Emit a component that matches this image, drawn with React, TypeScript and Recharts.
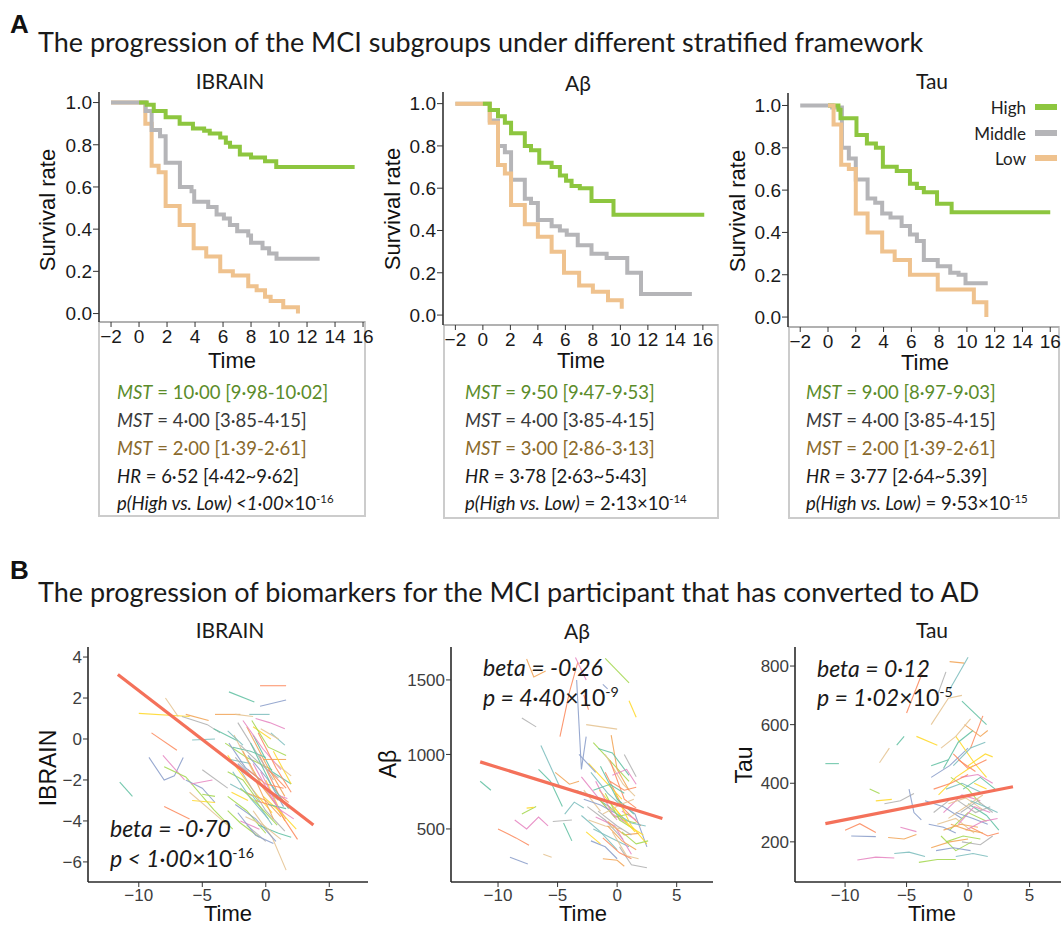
import React from 'react';
import { LineChart, Line, XAxis, YAxis } from 'recharts';

// ---------------- DATA ----------------
// Panel A: Kaplan-Meier style survival curves [time, survival]
const ibrainHigh = [[0,1],[0.55,0.99],[1.05,0.96],[1.9,0.93],[2.9,0.9],[3.85,0.877],[4.65,0.866],[5.05,0.853],[5.8,0.834],[6.2,0.81],[6.5,0.79],[7.2,0.754],[8,0.74],[9,0.722],[9.8,0.695],[15.4,0.695]];
const ibrainMiddle = [[-2,1],[0.47,0.96],[0.9,0.87],[1.5,0.84],[1.9,0.715],[2.92,0.6],[3.75,0.58],[3.94,0.53],[4.94,0.505],[5.54,0.47],[6.06,0.45],[6.49,0.42],[7.01,0.39],[7.8,0.37],[8,0.335],[8.82,0.31],[9.29,0.285],[9.82,0.26],[12.9,0.26]];
const ibrainLow = [[-2,1],[0.45,0.9],[0.9,0.7],[1.4,0.67],[1.9,0.51],[2.9,0.42],[3.9,0.31],[4.8,0.27],[5.8,0.2],[6.7,0.18],[7.8,0.13],[8.4,0.11],[9,0.08],[9.4,0.06],[10.3,0.03],[11.35,0.03],[11.35,0]];

const abHigh = [[0,1],[0.5,0.97],[1.1,0.94],[1.6,0.91],[2.05,0.86],[3.05,0.8],[3.5,0.78],[4.1,0.72],[5,0.7],[5.6,0.66],[6.05,0.635],[6.45,0.61],[7.05,0.6],[7.9,0.54],[9.5,0.475],[16.1,0.475]];
const abMiddle = [[-2,1],[0.5,0.92],[1.1,0.8],[1.6,0.77],[2.05,0.64],[3.05,0.55],[3.5,0.53],[4,0.45],[5,0.42],[5.6,0.4],[6.1,0.38],[6.9,0.33],[7.9,0.29],[9,0.27],[10.5,0.2],[11.5,0.1],[15.2,0.1]];
const abLow = [[-2,1],[0.5,0.91],[1.1,0.71],[1.6,0.67],[2.05,0.52],[3.05,0.43],[4,0.37],[5,0.3],[5.9,0.2],[7,0.14],[8,0.11],[9.1,0.07],[10.1,0.07],[10.1,0.03]];

const tauHigh = [[0,1],[0.75,0.98],[0.9,0.94],[2.05,0.86],[2.8,0.82],[3.45,0.8],[3.95,0.71],[4.95,0.69],[5.9,0.63],[6.4,0.61],[6.9,0.59],[7.85,0.535],[8.9,0.495],[16,0.495]];
const tauMiddle = [[-2,1],[0.3,0.99],[1,0.8],[1.5,0.75],[2,0.65],[2.85,0.56],[3.4,0.54],[3.9,0.49],[4.5,0.47],[5.3,0.43],[5.9,0.39],[6.4,0.36],[6.9,0.27],[7.9,0.24],[8.8,0.21],[9.4,0.2],[9.9,0.16],[11.5,0.16]];
const tauLow = [[0,1],[0.4,0.91],[0.95,0.72],[1.5,0.7],[2,0.49],[2.85,0.4],[3.9,0.31],[4.8,0.27],[5.9,0.2],[7.9,0.13],[10.5,0.07],[11.4,0.07],[11.4,0]];

const survXTicks = [-2,0,2,4,6,8,10,12,14,16];
const survYTicks = [0,0.2,0.4,0.6,0.8,1.0];
const groupLabels = ['High','Middle','Low'];

// Panel B: individual trajectories [time, value]
const ibrainTraj = [
  [[-11.5,-2.1],[-10.5,-2.8]],
  [[-9.0,0.3],[-7.0,-0.55]],
  [[-9.2,-0.9],[-8.0,-2.0],[-7.2,-1.8],[-6.5,-0.9]],
  [[-8.1,-0.8],[-6.4,-2.0]],
  [[-8.0,-1.35],[-6.3,-1.85],[-4.1,-3.45],[-2.6,-4.4]],
  [[-10,1.25],[-6,1.1]],
  [[-7.9,2.0],[-6.9,1.1]],
  [[-6.6,1.1],[-4.6,0.7],[-3.6,0.3]],
  [[-6.3,1.2],[-4.5,0.9]],
  [[-5.8,-0.05],[-4,0.0]],
  [[-4.1,0.5],[-2.2,-0.1]],
  [[-8,-3.3],[-6,-3.9]],
  [[-6.3,-2.0],[-5,-2.4],[-4,-3.1]],
  [[-5.9,-2.2],[-4.2,-2.0]],
  [[-5.0,-2.7],[-4.0,-2.8]],
  [[-5.8,-3.0],[-4,-3.1]],
  [[-6,-2.6],[-4.5,-3.4],[-3,-4.2]],
  [[-5.0,-1.5],[-3,-2.4]],
  [[-4,1.2],[-2,1.2]],
  [[-1.3,1.2],[0.3,1.2]],
  [[-2.9,2.3],[-0.9,1.8]],
  [[-0.45,2.6],[1.6,2.6]],
  [[-0.45,1.6],[1.6,1.9]],
  [[-0.8,1.0],[0.3,0.8],[1.5,0.5]],
  [[-3.2,-0.2],[-1.5,-0.9],[0.5,-1.5]],
  [[-3,-0.8],[-1,-2.5],[0.5,-3.6]],
  [[-2.5,0.2],[-1,-1.6],[0.8,-3.2]],
  [[-2,-1.5],[0,-3.5],[1.5,-4.5]],
  [[-1.5,0.6],[0,-1.2],[1.5,-2.8]],
  [[-2.8,-2.2],[-1,-2.8],[0.5,-4.2]],
  [[-1,0.2],[0.5,-1.6],[2,-2.2]],
  [[-0.5,-0.8],[1,-2.7],[1.8,-3.1]],
  [[-2.2,-1.2],[-0.5,-2.2],[1,-3.0]],
  [[-1.8,0.9],[-0.2,-0.5],[1.2,-1.5]],
  [[-3,-2.8],[-1.5,-3.5],[0,-4.6]],
  [[0,-2],[1.5,-4.0]],
  [[-1,-3.5],[0.5,-4.8],[1.6,-6.4]],
  [[-1.5,-4.2],[0,-5.0]],
  [[-0.2,-1.0],[1.6,-1.0]],
  [[0.4,0.3],[1.5,-0.3]],
  [[-2.6,-0.4],[-1.2,-0.6],[0,-0.9]],
  [[-0.8,-3.0],[0.8,-3.3],[2.5,-4.9]],
  [[-2.4,-3.2],[-0.8,-3.9],[0.8,-5.0]],
  [[-1.2,-1.8],[0.2,-2.6],[1.7,-2.9]],
  [[-3,-1.6],[-1.8,-2.0],[-0.5,-3.1]],
  [[0.6,-0.6],[2,-2.2]],
  [[-0.4,0.5],[1,0.0]],
  [[-2,-0.3],[-0.3,-1.3],[1,-1.9]],
  [[-1.6,-2.6],[0,-3.0],[1.2,-3.8]],
  [[-2.8,-1.0],[-1.2,-1.2]],
  [[-0.6,-4.2],[1.0,-4.6],[2,-4.8]],
  [[0.2,-1.5],[1.6,-2.4]],
  [[-1.4,-0.8],[0.2,-2.0],[1.4,-3.3]],
  [[-2,-4.0],[-0.5,-4.4]],
  [[-3,-3.5],[-2,-4.1],[-0.5,-4.8]],
  [[-1,0.6],[0.4,0.0]],
  [[-2.4,1.2],[-1,1.1]],
  [[-2.2,0.8],[-0.8,-0.6],[0.6,-2.0]],
  [[-1.8,-0.6],[-0.2,-2.4],[1.3,-3.6]],
  [[-2.6,-1.6],[-1.2,-2.9],[0.2,-3.9]],
  [[-1.2,-0.2],[0.4,-2.2],[1.8,-3.4]],
  [[-0.6,0.3],[0.8,-1.4],[2,-2.6]],
  [[-2.9,-0.2],[-1.6,-1.4],[-0.4,-2.0]],
  [[-1.0,-1.2],[0.5,-2.9],[1.6,-3.9]],
  [[-2.0,-2.4],[-0.6,-3.2],[0.9,-4.2]],
  [[-0.2,-2.8],[1.2,-3.6],[2.4,-4.4]],
  [[-1.6,-3.8],[-0.2,-4.2],[1.2,-4.9]],
  [[-2.4,-0.9],[-1.0,-1.9],[0.4,-2.6]],
  [[-0.8,-2.0],[0.6,-3.9]],
  [[-3.0,0.4],[-1.8,-0.3]],
  [[0.2,-3.2],[1.6,-3.4]],
  [[-1.4,-1.5],[0,-2.2],[1.4,-2.4]],
  [[-2.2,-3.6],[-0.8,-4.7],[0.6,-5.1]],
  [[-0.4,-1.6],[1,-3.4],[2.2,-3.9]],
  [[-1.1,0.9],[0.2,-0.4],[1.6,-0.8]],
  [[-2.7,-2.6],[-1.4,-3.0]],
  [[0.8,-1.2],[2,-1.8]],
];
const abTraj = [
  [[-11.5,820],[-10.6,760]],
  [[-10,500],[-8.5,440],[-7.4,390]],
  [[-9,310],[-7.5,265]],
  [[-8.6,560],[-7.6,500],[-6.6,580],[-5.8,520]],
  [[-8,600],[-6.8,650]],
  [[-7.6,640],[-7,645]],
  [[-6.2,330],[-5.5,310]],
  [[-8,1245],[-6.8,1185]],
  [[-7.6,1640],[-7,1520],[-6,1560]],
  [[-6.4,1060],[-4.8,780]],
  [[-6.6,900],[-5.6,820],[-4.6,650]],
  [[-4.8,1120],[-4,1420],[-3.3,1620]],
  [[-3.4,1500],[-3.0,900],[-2.6,1120]],
  [[-3.5,1650],[-2.6,1500]],
  [[-1.0,1645],[1.0,1480]],
  [[1.0,1360],[1.6,1250]],
  [[-2.6,1200],[0,1170]],
  [[-5.4,550],[-3.8,560]],
  [[-5.2,880],[-4,800],[-3.2,820]],
  [[-4.4,600],[-3.6,680],[-2.8,640]],
  [[-4.5,540],[-3.8,420]],
  [[-2.8,1400],[-2.4,1300]],
  [[-1.2,1470],[-0.8,1440]],
  [[-3,850],[-1.5,700],[0,560]],
  [[-2,1080],[-0.5,950],[1,820]],
  [[-1.5,760],[0,620],[1.5,480]],
  [[-1,1000],[0.5,800],[1.5,720]],
  [[-2.5,650],[-1,560],[0.5,430]],
  [[-0.5,1130],[0,900],[1,760]],
  [[-2,500],[-0.5,440],[1,380]],
  [[-3.5,760],[-2,720],[-0.5,640]],
  [[-1,880],[0.5,640],[2,520]],
  [[0,700],[1.5,600],[2.5,380]],
  [[-1.8,580],[-0.2,520],[1.2,330]],
  [[-0.8,660],[0.5,560],[1.6,540]],
  [[-2.4,940],[-1,820],[0.4,700]],
  [[-0.4,480],[0.8,320],[1.8,300]],
  [[0.2,380],[1.2,260],[2.5,240]],
  [[-1.2,300],[0,290],[0.6,250]],
  [[-3,590],[-1.4,480],[0,360]],
  [[-1.6,1040],[-0.4,1010],[1,860]],
  [[-0.6,820],[0.6,760],[1.6,780]],
  [[-2.2,420],[-1,380],[0,300]],
  [[0.4,620],[1.6,560]],
  [[-1.4,690],[-0.2,580],[1,600]],
  [[-0.2,740],[1.2,520],[2.5,400]],
  [[-2.8,760],[-1.4,620]],
  [[0.6,1000],[1.6,850]],
  [[-0.8,550],[0.6,460],[1.8,470]],
  [[-2.2,880],[-0.8,740],[0.6,640]],
  [[-1.4,920],[0,700],[1.4,600]],
  [[-0.6,960],[0.6,700],[1.6,640]],
  [[-2.8,700],[-1.4,660],[0,600]],
  [[-1.8,820],[-0.4,600],[0.8,540]],
  [[-1.0,740],[0.2,560],[1.4,500]],
  [[-0.2,640],[1,520],[2.2,460]],
  [[-2.4,560],[-1,520],[0.4,500]],
  [[-1.6,620],[0,520],[1.2,460]],
  [[-0.8,520],[0.4,420],[1.6,360]],
  [[0,600],[1.2,540],[2.4,520]],
  [[-2,760],[-0.6,800],[0.6,740]],
  [[-1.2,440],[0.2,340],[1.2,300]],
  [[-3.2,1000],[-1.8,880]],
  [[-0.4,860],[0.8,900],[1.6,800]],
  [[0.4,480],[1.6,400],[2.6,420]],
  [[-2.6,480],[-1.4,400]],
  [[-1.2,600],[0.2,660],[1.4,700]],
];
const tauTraj = [
  [[-11.6,467],[-10.5,467]],
  [[-10,240],[-8.8,262],[-7.5,232]],
  [[-9.5,220],[-7.5,218]],
  [[-9,138],[-7.5,148],[-6,145]],
  [[-8,380],[-7.2,365]],
  [[-7.5,340],[-6.2,345]],
  [[-7.2,470],[-6.4,520]],
  [[-6.8,330],[-5.5,340],[-4.4,365]],
  [[-6.5,215],[-5.2,210],[-4.2,225]],
  [[-6,160],[-4.8,165],[-3.5,150]],
  [[-5.8,530],[-5.2,560]],
  [[-5,640],[-3.6,790]],
  [[-4.8,380],[-4.4,300],[-3.8,275]],
  [[-5.5,250],[-4.2,235]],
  [[-4,130],[-2.5,140],[-1,140]],
  [[-4.2,560],[-2.5,530]],
  [[-3,600],[-1.6,690],[-0.5,700]],
  [[-2.5,700],[-1.8,780]],
  [[-1.5,815],[-0.3,810]],
  [[-1.5,720],[0,830]],
  [[-0.5,680],[1.5,600]],
  [[0.2,520],[1.2,630]],
  [[-3,420],[-1.5,460],[0,520]],
  [[-2,300],[-0.5,360],[1,340]],
  [[-1.5,240],[0,300],[1.5,270]],
  [[-1,560],[0.5,470],[1.5,420]],
  [[-2.5,260],[-1,280],[0.5,230]],
  [[-0.5,200],[1,190],[2,220]],
  [[-3,180],[-1.5,200],[0,210]],
  [[-1.8,380],[-0.5,400],[1,370]],
  [[0,330],[1.5,290],[2.5,240]],
  [[-1.2,500],[0,450],[1.5,480]],
  [[-3.5,340],[-2,320],[-0.5,280]],
  [[-0.8,260],[0.5,320],[1.8,300]],
  [[-2.2,220],[-1,170],[0.3,200]],
  [[0.5,400],[1.5,380]],
  [[-1.6,330],[-0.2,350],[1.2,310]],
  [[-2.8,300],[-1.6,340]],
  [[-0.3,600],[1,560],[1.6,580]],
  [[-1,150],[0.4,160],[1.6,150]],
  [[-2,450],[-0.8,540],[0.4,580]],
  [[0.2,250],[1.6,220],[2.5,230]],
  [[-3.2,260],[-2,250],[-1,230]],
  [[-0.6,420],[0.8,430],[2,400]],
  [[-1.4,420],[0,380],[1,330]],
  [[-2.4,360],[-1,420],[0.4,460]],
  [[-1.6,280],[-0.2,320],[1.2,360]],
  [[-0.8,340],[0.6,300],[1.8,320]],
  [[-2,240],[-0.6,260],[0.8,250]],
  [[-1.2,460],[0.2,520],[1.4,540]],
  [[-0.4,380],[1,420],[2.2,380]],
  [[-2.8,380],[-1.4,400],[0,430]],
  [[-1,300],[0.4,280],[1.6,260]],
  [[-0.2,240],[1.2,270],[2.4,280]],
  [[-1.8,200],[-0.4,220],[1,210]],
  [[0,460],[1.4,500],[2,490]],
  [[-2.2,520],[-1,560],[0.2,620]],
  [[-0.6,300],[0.8,340],[2,300]],
  [[-1.4,260],[0,240],[1.2,230]],
  [[0.2,340],[1.4,320],[2.4,300]],
  [[-3,460],[-1.6,480]],
  [[-0.8,480],[0.6,440]],
  [[-2.6,170],[-1.2,180],[0.2,170]],
];
const ibrainFit = [[-11.65,3.15],[3.75,-4.2]];
const abFit = [[-11.5,950],[3.8,570]];
const tauFit = [[-11.6,262],[3.65,388]];

const trajXTicks = [-10,-5,0,5];
const ibrainYTicks = [-6,-4,-2,0,2,4];
const abYTicks = [500,1000,1500];
const tauYTicks = [200,400,600,800];

// ---------------- STYLE ----------------
const CAL = "Lato, 'Open Sans', 'Noto Sans', sans-serif";
const ARIAL = "'Liberation Sans', Arial, Helvetica, sans-serif";
const GREEN = '#8dc63f';
const GREY = '#b5b5b8';
const TAN = '#efc28e';
const FIT = '#f4715a';
const PALETTE = ['#66c2a5','#fc8d62','#8da0cb','#e78ac3','#a6d854','#ffd92f','#e5c494','#b3b3b3','#f2a65a','#7fbfbf'];

const toPts = (arr: number[][]) => arr.map(([x, y]) => ({ x, y }));
const fmtMinus = (v: number) => (v < 0 ? '\u2212' + Math.abs(v) : String(v));

type Series = { data: number[][]; color: string; width: number; type: 'stepAfter' | 'linear'; opacity?: number };

function makeTick(axis: 'x' | 'y', size: number, color: string, fmt: (v: number) => string) {
  return (p: any) => (
    <text x={p.x} y={p.y} dy={axis === 'x' ? size * 0.72 : size * 0.36} textAnchor={axis === 'x' ? 'middle' : 'end'}
      fontSize={size} fontFamily={ARIAL} fill={color}>{fmt(p.payload.value)}</text>
  );
}

function Plot(props: {
  l: number; t: number; w: number; h: number;
  xDomain: number[]; yDomain: number[]; xTicks: number[]; yTicks: number[];
  yFmt: (v: number) => string; series: Series[]; fontSize: number;
  border: string; bottomColor: string; tickColor: string; ytSize: number; xtSize: number;
}) {
  const yw = 70, xh = 40, mr = 16;
  const { l, t, w, h } = props;
  return (
    <div style={{ position: 'absolute', left: l - yw, top: t - 2 }}>
      <LineChart width={yw + w + mr} height={h + xh + 2} margin={{ top: 2, right: mr, bottom: 0, left: 0 }}>
        <XAxis xAxisId="b" type="number" dataKey="x" domain={props.xDomain} allowDataOverflow ticks={props.xTicks} interval={0}
          tick={makeTick('x', props.fontSize, props.tickColor, fmtMinus)} tickSize={props.xtSize} tickMargin={2}
          tickLine={{ stroke: '#333', strokeWidth: 1 }} axisLine={{ stroke: props.bottomColor, strokeWidth: 1.6 }} height={xh} />
        <XAxis xAxisId="t" orientation="top" type="number" dataKey="x" domain={props.xDomain} allowDataOverflow
          tick={false} tickLine={false} axisLine={{ stroke: props.border, strokeWidth: 1.6 }} height={0} />
        <YAxis yAxisId="l" type="number" domain={props.yDomain} allowDataOverflow ticks={props.yTicks} interval={0}
          tick={makeTick('y', props.fontSize, props.tickColor, props.yFmt)} tickSize={props.ytSize} tickMargin={1}
          tickLine={{ stroke: '#333', strokeWidth: 1 }} axisLine={{ stroke: props.border, strokeWidth: 1.6 }} width={yw} />
        <YAxis yAxisId="r" orientation="right" type="number" domain={props.yDomain} allowDataOverflow
          tick={false} tickLine={false} axisLine={{ stroke: props.border, strokeWidth: 1.6 }} width={0} />
        {props.series.map((s, i) => (
          <Line key={i} xAxisId="b" yAxisId="l" data={toPts(s.data)} dataKey="y" type={s.type}
            stroke={s.color} strokeWidth={s.width} strokeOpacity={s.opacity ?? 1} dot={false} activeDot={false}
            isAnimationActive={false} strokeLinejoin="miter" />
        ))}
      </LineChart>
    </div>
  );
}

function Txt(p: { x: number; y: number; a?: 'start' | 'middle' | 'end'; size: number; fam?: string; color?: string; bold?: boolean; italic?: boolean; rot?: number; children: React.ReactNode }) {
  const tx = p.a === 'middle' ? '-50%' : p.a === 'end' ? '-100%' : '0';
  return (
    <div style={{
      position: 'absolute', left: p.x, top: p.y, whiteSpace: 'nowrap', lineHeight: 1,
      transform: `translate(${tx},-50%)${p.rot ? ` rotate(${p.rot}deg)` : ''}`,
      fontSize: p.size, fontFamily: p.fam ?? CAL, color: p.color ?? '#1a1a1a',
      fontWeight: p.bold ? 700 : 400, fontStyle: p.italic ? 'italic' : 'normal',
    }}>{p.children}</div>
  );
}

const Sup = ({ children }: { children: React.ReactNode }) => (
  <span style={{ fontSize: '0.62em', position: 'relative', top: '-0.62em' }}>{children}</span>
);

const statColors = ['#5b8c2a', '#3a3a3a', '#8a6a2c', '#1a1a1a', '#1a1a1a'];

function StatBox({ l, t, w, h, tx, lines }: { l: number; t: number; w: number; h: number; tx: number; lines: React.ReactNode[] }) {
  const ys = [392, 420, 448, 476, 503];
  return (
    <>
      <div style={{ position: 'absolute', left: l, top: t, width: w, height: h, boxSizing: 'border-box', border: '2px solid #cccccc' }} />
      {lines.map((ln, i) => (
        <Txt key={i} x={tx} y={ys[i]} size={18.5} color={statColors[i]}>{ln}</Txt>
      ))}
    </>
  );
}

const mst = (v: string) => (<><i>MST</i> = {v}</>);

export default function App() {
  const survFmt = (v: number) => v.toFixed(1);
  const surv = (arr: number[][], color: string): Series => ({ data: arr, color, width: 4, type: 'stepAfter' });
  const traj = (list: number[][][], fit: number[][]): Series[] => [
    ...list.map((d, i) => ({ data: d, color: PALETTE[i % PALETTE.length], width: 1.1, type: 'linear' as const, opacity: 0.9 })),
    { data: fit, color: FIT, width: 3.2, type: 'linear' as const },
  ];
  const aCommon = { xTicks: survXTicks, yTicks: survYTicks, yFmt: survFmt, fontSize: 19, border: '#333', bottomColor: '#a8a8a8', tickColor: '#1a1a1a', ytSize: 6, xtSize: 5 };
  const bCommon = { xTicks: trajXTicks, yFmt: fmtMinus, fontSize: 17, border: '#2a2a2a', bottomColor: '#2a2a2a', tickColor: '#3d3d3d', ytSize: 5, xtSize: 5 };

  return (
    <div style={{ position: 'absolute', left: 0, top: 0, width: 1061, height: 927, overflow: 'hidden', background: '#fff' }}>
      {/* ---------- Panel A ---------- */}
      <Txt x={10} y={24} size={26} fam={ARIAL} bold color="#111">A</Txt>
      <Txt x={38} y={41} size={27}>The progression of the MCI subgroups under different stratified framework</Txt>

      <StatBox l={98} t={321} w={268} h={196} tx={117} lines={[
        mst('10·00 [9·98-10·02]'), mst('4·00 [3·85-4·15]'), mst('2·00 [1·39-2·61]'),
        <><i>HR</i> = 6·52 [4·42~9·62]</>,
        <><i>p(High vs. Low) &lt;1·00</i>×10<Sup>-16</Sup></>,
      ]} />
      <StatBox l={443} t={324} w={276} h={195} tx={465} lines={[
        mst('9·50 [9·47-9·53]'), mst('4·00 [3·85-4·15]'), mst('3·00 [2·86-3·13]'),
        <><i>HR</i> = 3·78 [2·63~5·43]</>,
        <><i>p(High vs. Low)</i> = 2·13×10<Sup>-14</Sup></>,
      ]} />
      <StatBox l={788} t={326} w={272} h={193} tx={806} lines={[
        mst('9·00 [8·97-9·03]'), mst('4·00 [3·85-4·15]'), mst('2·00 [1·39-2·61]'),
        <><i>HR</i> = 3·77 [2·64~5.39]</>,
        <><i>p(High vs. Low)</i> = 9·53×10<Sup>-15</Sup></>,
      ]} />

      <Plot l={99} t={92} w={266} h={230} xDomain={[-2.86, 16.14]} yDomain={[-0.04, 1.05]} {...aCommon}
        series={[surv(ibrainLow, TAN), surv(ibrainMiddle, GREY), surv(ibrainHigh, GREEN)]} />
      <Plot l={443} t={92} w={275} h={233} xDomain={[-2.9, 17.1]} yDomain={[-0.047, 1.055]} {...aCommon}
        series={[surv(abMiddle, GREY), surv(abLow, TAN), surv(abHigh, GREEN)]} />
      <Plot l={788} t={93} w={271} h={234} xDomain={[-2.88, 16.63]} yDomain={[-0.047, 1.059]} {...aCommon}
        series={[surv(tauMiddle, GREY), surv(tauHigh, GREEN), surv(tauLow, TAN)]} />

      <Txt x={230} y={80} a="middle" size={21}>IBRAIN</Txt>
      <Txt x={578} y={82} a="middle" size={21}>Aβ</Txt>
      <Txt x={932} y={80} a="middle" size={21}>Tau</Txt>

      <Txt x={48} y={210} a="middle" rot={-90} size={22} fam={ARIAL} color="#111">Survival rate</Txt>
      <Txt x={393} y={209} a="middle" rot={-90} size={22} fam={ARIAL} color="#111">Survival rate</Txt>
      <Txt x={738} y={211} a="middle" rot={-90} size={22} fam={ARIAL} color="#111">Survival rate</Txt>
      <Txt x={232} y={361} a="middle" size={22} fam={ARIAL} color="#111">Time</Txt>
      <Txt x={581} y={361} a="middle" size={22} fam={ARIAL} color="#111">Time</Txt>
      <Txt x={925} y={363} a="middle" size={22} fam={ARIAL} color="#111">Time</Txt>

      {/* legend */}
      {groupLabels.map((g, i) => (
        <React.Fragment key={g}>
          <Txt x={1026} y={107 + i * 25.5} a="end" size={17} color="#222">{g}</Txt>
          <div style={{ position: 'absolute', left: 1035, top: 104 + i * 25.5, width: 22, height: 6, background: [GREEN, GREY, TAN][i] }} />
        </React.Fragment>
      ))}

      {/* ---------- Panel B ---------- */}
      <Txt x={10} y={570} size={26} fam={ARIAL} bold color="#111">B</Txt>
      <Txt x={38} y={591} size={27}>The progression of biomarkers for the MCI participant that has converted to AD</Txt>

      <Txt x={230} y={629} a="middle" size={21}>IBRAIN</Txt>
      <Txt x={577} y={630} a="middle" size={21}>Aβ</Txt>
      <Txt x={932} y={629} a="middle" size={21}>Tau</Txt>

      <Plot l={88} t={647} w={280} h={235} xDomain={[-14, 8.05]} yDomain={[-6.98, 4.49]} yTicks={ibrainYTicks} {...bCommon}
        series={traj(ibrainTraj, ibrainFit)} />
      <Plot l={451} t={647} w={262} h={235} xDomain={[-13.95, 8.05]} yDomain={[144, 1721]} yTicks={abYTicks} {...bCommon}
        series={traj(abTraj, abFit)} />
      <Plot l={795} t={647} w={271} h={235} xDomain={[-14.07, 7.96]} yDomain={[63, 865]} yTicks={tauYTicks} {...bCommon}
        series={traj(tauTraj, tauFit)} />

      <Txt x={48} y={768} a="middle" rot={-90} size={23} fam={ARIAL} color="#111">IBRAIN</Txt>
      <Txt x={388} y={764} a="middle" rot={-90} size={23} fam={ARIAL} color="#111">Aβ</Txt>
      <Txt x={744} y={765} a="middle" rot={-90} size={23} fam={ARIAL} color="#111">Tau</Txt>
      <Txt x={228} y={914} a="middle" size={22} fam={ARIAL} color="#111">Time</Txt>
      <Txt x={583} y={914} a="middle" size={22} fam={ARIAL} color="#111">Time</Txt>
      <Txt x={932} y={914} a="middle" size={22} fam={ARIAL} color="#111">Time</Txt>

      <Txt x={110} y={828} size={23} italic>beta = -0·70</Txt>
      <Txt x={110} y={858} size={23}><i>p &lt; 1·00</i>×10<Sup>-16</Sup></Txt>
      <Txt x={483} y={667} size={23} italic>beta = -0·26</Txt>
      <Txt x={483} y={697} size={23}><i>p = 4·40</i>×10<Sup>-9</Sup></Txt>
      <Txt x={817} y={668} size={23} italic>beta = 0·12</Txt>
      <Txt x={817} y={697} size={23}><i>p = 1·02</i>×10<Sup>-5</Sup></Txt>
    </div>
  );
}
